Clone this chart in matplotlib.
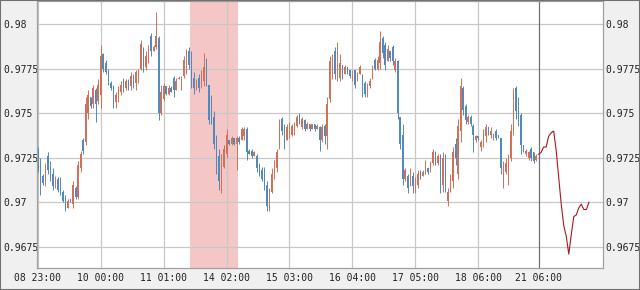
import numpy as np
import matplotlib
matplotlib.use("Agg")
import matplotlib.pyplot as plt

# hourly OHLC bars (index = bar number)
opens = [
    .9730, .9722, .9715, .9711, .9726, .9721, .9716, .9709, .9713, .9711,
    .9706, .9703, .9697, .9702, .9699, .9708, .9703, .9719, .9735, .9734,
    .9750, .9759, .9755, .9763, .9757, .9760, .9783, .9778, .9774, .9767,
    .9765, .9756, .9758, .9762, .9768, .9764, .9768, .9765, .9771, .9767,
    .9772, .9775, .9786, .9776, .9779, .9793, .9785, .9787, .9792, .9750,
    .9758, .9765, .9761, .9764, .9770, .9763, .9769, .9765, .9771, .9778,
    .9785, .9780, .9770, .9764, .9770, .9765, .9768, .9778, .9766, .9752,
    .9748, .9735, .9726, .9710, .9720, .9727, .9735, .9733, .9736, .9733,
    .9736, .9735, .9737, .9741, .9729, .9729, .9726, .9726, .9720, .9718,
    .9716, .9710, .9697, .9706, .9715, .9719, .9732, .9747, .9743, .9735,
    .9737, .9738, .9740, .9743, .9749, .9742, .9746, .9741, .9744, .9741,
    .9744, .9741, .9742, .9735, .9743, .9737, .9758, .9772, .9785, .9772,
    .9770, .9777, .9772, .9776, .9774, .9769, .9774, .9768, .9772, .9771,
    .9767, .9760, .9765, .9770, .9780, .9775, .9778, .9792, .9788, .9779,
    .9785, .9787, .9774, .9779, .9748, .9738, .9713, .9715, .9709, .9715,
    .9707, .9710, .9717, .9715, .9717, .9719, .9717, .9722, .9728, .9722,
    .9726, .9710, .9726, .9701, .9707, .9712, .9733, .9716, .9740, .9764,
    .9754, .9745, .9748, .9743, .9735, .9737, .9731, .9733, .9737, .9742,
    .9738, .9736, .9740, .9738, .9736, .9711, .9717, .9713, .9725, .9740,
    .9764, .9756, .9749, .9732, .9727, .9725, .9730, .9728, .9724]
highs = [
    .9731, .9725, .9716, .9722, .9728, .9723, .9719, .9715, .9714, .9714,
    .9707, .9704, .9702, .9702, .9712, .9709, .9723, .9729, .9736, .9759,
    .9763, .9759, .9766, .9764, .9769, .9788, .9784, .9780, .9775, .9768,
    .9766, .9762, .9765, .9768, .9770, .9769, .9769, .9773, .9772, .9774,
    .9775, .9791, .9787, .9785, .9788, .9795, .9788, .9807, .9793, .9766,
    .9767, .9765, .9766, .9765, .9771, .9770, .9771, .9771, .9782, .9786,
    .9787, .9785, .9773, .9769, .9772, .9774, .9784, .9781, .9766, .9760,
    .9751, .9738, .9730, .9727, .9732, .9741, .9735, .9737, .9736, .9737,
    .9737, .9742, .9742, .9742, .9730, .9730, .9729, .9727, .9722, .9720,
    .9720, .9712, .9708, .9719, .9724, .9730, .9747, .9748, .9744, .9744,
    .9745, .9744, .9745, .9749, .9750, .9748, .9747, .9745, .9744, .9744,
    .9744, .9744, .9743, .9744, .9744, .9759, .9782, .9783, .9787, .9790,
    .9783, .9777, .9777, .9776, .9774, .9774, .9774, .9773, .9777, .9772,
    .9768, .9767, .9770, .9777, .9781, .9782, .9796, .9793, .9790, .9788,
    .9785, .9788, .9781, .9780, .9748, .9744, .9719, .9716, .9719, .9717,
    .9714, .9718, .9718, .9718, .9724, .9719, .9723, .9730, .9729, .9727,
    .9727, .9728, .9727, .9708, .9716, .9731, .9736, .9747, .9770, .9765,
    .9755, .9749, .9749, .9744, .9738, .9737, .9735, .9741, .9744, .9742,
    .9742, .9739, .9741, .9738, .9736, .9723, .9725, .9727, .9744, .9764,
    .9765, .9759, .9750, .9732, .9730, .9729, .9731, .9728, .9727]
lows = [
    .9717, .9704, .9710, .9709, .9716, .9712, .9707, .9708, .9706, .9704,
    .9700, .9695, .9697, .9700, .9697, .9702, .9702, .9717, .9727, .9732,
    .9747, .9753, .9753, .9745, .9755, .9753, .9773, .9772, .9766, .9763,
    .9753, .9753, .9756, .9760, .9762, .9763, .9763, .9763, .9764, .9763,
    .9767, .9774, .9773, .9774, .9778, .9782, .9785, .9786, .9746, .9749,
    .9757, .9760, .9760, .9762, .9759, .9763, .9769, .9763, .9770, .9772,
    .9775, .9764, .9761, .9763, .9762, .9764, .9765, .9765, .9744, .9744,
    .9730, .9716, .9707, .9705, .9719, .9725, .9732, .9732, .9732, .9718,
    .9733, .9735, .9735, .9724, .9727, .9725, .9726, .9717, .9715, .9712,
    .9707, .9695, .9695, .9705, .9713, .9717, .9730, .9738, .9730, .9735,
    .9736, .9737, .9738, .9742, .9744, .9741, .9740, .9741, .9740, .9741,
    .9740, .9741, .9729, .9734, .9733, .9730, .9756, .9769, .9769, .9768,
    .9768, .9769, .9772, .9772, .9770, .9768, .9764, .9768, .9772, .9759,
    .9759, .9759, .9764, .9769, .9774, .9774, .9775, .9781, .9774, .9779,
    .9779, .9777, .9773, .9747, .9730, .9710, .9712, .9705, .9709, .9705,
    .9705, .9708, .9713, .9715, .9716, .9716, .9717, .9721, .9721, .9721,
    .9705, .9706, .9706, .9698, .9706, .9708, .9721, .9713, .9734, .9749,
    .9744, .9744, .9743, .9728, .9734, .9735, .9729, .9731, .9734, .9738,
    .9736, .9735, .9735, .9736, .9716, .9708, .9716, .9710, .9723, .9738,
    .9747, .9743, .9727, .9728, .9726, .9724, .9723, .9722, .9723]
closes = [
    .9720, .9710, .9711, .9720, .9718, .9714, .9709, .9714, .9707, .9705,
    .9701, .9697, .9701, .9700, .9710, .9703, .9721, .9727, .9729, .9755,
    .9760, .9754, .9764, .9755, .9766, .9782, .9775, .9773, .9768, .9764,
    .9757, .9760, .9763, .9766, .9764, .9768, .9765, .9771, .9767, .9773,
    .9774, .9789, .9776, .9782, .9786, .9785, .9787, .9793, .9750, .9762,
    .9765, .9761, .9764, .9762, .9763, .9768, .9770, .9770, .9780, .9784,
    .9777, .9768, .9764, .9767, .9764, .9772, .9776, .9767, .9746, .9746,
    .9733, .9720, .9712, .9722, .9730, .9738, .9733, .9736, .9733, .9736,
    .9734, .9741, .9741, .9728, .9727, .9726, .9728, .9719, .9716, .9713,
    .9709, .9698, .9705, .9716, .9720, .9728, .9744, .9740, .9734, .9742,
    .9743, .9743, .9744, .9748, .9746, .9747, .9741, .9744, .9741, .9744,
    .9741, .9743, .9735, .9742, .9737, .9755, .9779, .9781, .9772, .9777,
    .9778, .9771, .9776, .9773, .9771, .9773, .9766, .9772, .9776, .9762,
    .9761, .9765, .9768, .9775, .9775, .9780, .9790, .9784, .9777, .9786,
    .9781, .9779, .9779, .9750, .9733, .9713, .9718, .9708, .9716, .9709,
    .9713, .9716, .9714, .9717, .9721, .9717, .9721, .9728, .9723, .9726,
    .9709, .9725, .9709, .9706, .9714, .9728, .9725, .9743, .9765, .9752,
    .9746, .9748, .9744, .9738, .9737, .9736, .9734, .9739, .9742, .9739,
    .9740, .9738, .9736, .9737, .9719, .9718, .9722, .9724, .9740, .9760,
    .9751, .9746, .9732, .9729, .9729, .9728, .9725, .9723, .9726]

# forecast line, starts at bar 199
forecast = [.9727, .9728, .9731, .9731, .9737, .9739, .9740, .9729, .9714, .9699,
            .9687, .9681, .9671, .9682, .9692, .9693, .9697, .9699, .9696, .9696,
            .9700]

tick_pos = [0, 25, 50, 75, 100, 125, 150, 175, 199]
tick_labels = ['08 23:00', '10 00:00', '11 01:00', '14 02:00', '15 03:00',
               '16 04:00', '17 05:00', '18 06:00', '21 06:00']
y_ticks = [0.9675, 0.97, 0.9725, 0.975, 0.9775, 0.98]
y_tick_labels = ['0.9675', '0.97', '0.9725', '0.975', '0.9775', '0.98']

up_color = '#cf7158'
down_color = '#5089bb'
font = 'DejaVu Sans Mono'

fig = plt.figure(figsize=(6.4, 2.9), dpi=100, facecolor='#f0f0f0')
ax = fig.add_axes([37 / 640, 22 / 290, 566 / 640, 267 / 290])
ax.set_facecolor('white')

o = np.array(opens)
h = np.array(highs)
l = np.array(lows)
c = np.array(closes)
x = np.arange(len(c))
cols = np.where(c >= o, up_color, down_color)

# highlighted period
ax.axvspan(60.3, 79.4, color='#f4c6c6', zorder=0, lw=0)

# grid
for yv in y_ticks:
    ax.axhline(yv, color='#c8c8c8', lw=0.9, zorder=1)
for xv in tick_pos[:-1]:
    ax.axvline(xv, color='#c8c8c8', lw=0.9, zorder=1)
ax.axvline(tick_pos[-1], color='#707070', lw=0.9, zorder=1)

ax.vlines(x, l, h, colors=cols, lw=0.7, zorder=2)
ax.bar(x, c - o, bottom=o, width=0.55, color=cols, lw=0, zorder=2)

xf = np.arange(len(c), len(c) + len(forecast))
ax.plot(xf, forecast, color='#a8181c', lw=0.8, zorder=3)

ax.set_xlim(-0.3, 224.6)
ax.set_ylim(0.96632, 0.98129)

ax.set_xticks(tick_pos)
ax.set_xticklabels(tick_labels, fontsize=7, family=font, color='#222222')
ax.set_yticks(y_ticks)
ax.set_yticklabels(y_tick_labels, fontsize=7, family=font, color='#222222')
for t in ax.get_yticklabels():
    t.set_ha('left')
ax.tick_params(axis='y', length=0, pad=24.5)
ax.tick_params(axis='x', length=0, pad=3.5)

ax2 = ax.twinx()
ax2.set_ylim(ax.get_ylim())
ax2.set_yticks(y_ticks)
ax2.set_yticklabels(y_tick_labels, fontsize=7, family=font, color='#222222')
ax2.tick_params(axis='y', length=0, pad=2)

for a in (ax, ax2):
    for s in a.spines.values():
        s.set_color('#a0a0a0')
        s.set_linewidth(0.8)

fig.patches.append(plt.Rectangle((0, 0), 1, 1, transform=fig.transFigure,
                                 fill=False, edgecolor='#707070', lw=1.5))

fig.savefig('out.png', dpi=100, facecolor=fig.get_facecolor())
